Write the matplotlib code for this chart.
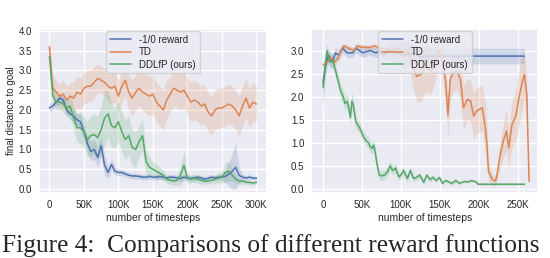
import numpy as np
import matplotlib
matplotlib.use("Agg")
import matplotlib.pyplot as plt
import seaborn as sns

# ---- data ----
# left panel: 0..300K every 5K
steps_l = np.arange(0, 301, 5) * 1000

blue_l = [2.05, 2.1, 2.2, 2.3, 2.25, 2.0, 1.9, 1.85, 1.75, 1.7,
          1.45, 1.15, 0.95, 1.0, 0.8, 1.1, 0.6, 0.42, 0.62, 0.45,
          0.42, 0.42, 0.38, 0.35, 0.33, 0.33, 0.32, 0.3, 0.3, 0.32,
          0.3, 0.3, 0.32, 0.3, 0.28, 0.3, 0.3, 0.28, 0.27, 0.3,
          0.28, 0.27, 0.28, 0.3, 0.28, 0.25, 0.27, 0.3, 0.28, 0.3,
          0.3, 0.32, 0.38, 0.45, 0.55, 0.35, 0.3, 0.28, 0.3, 0.28, 0.27]
blue_l_sd = [0.1, 0.1, 0.1, 0.1, 0.1, 0.15, 0.15, 0.15, 0.15, 0.2,
             0.2, 0.2, 0.25, 0.25, 0.25, 0.25, 0.25, 0.15, 0.15, 0.1,
             0.08, 0.08, 0.07, 0.07, 0.07, 0.07, 0.07, 0.07, 0.07, 0.07,
             0.07, 0.07, 0.07, 0.07, 0.07, 0.07, 0.07, 0.07, 0.07, 0.07,
             0.07, 0.07, 0.07, 0.07, 0.07, 0.07, 0.07, 0.07, 0.07, 0.07,
             0.08, 0.15, 0.3, 0.45, 0.6, 0.2, 0.08, 0.06, 0.06, 0.05, 0.05]

orange_l = [3.6, 2.55, 2.45, 2.35, 2.4, 2.25, 2.35, 2.3, 2.45, 2.4,
            2.55, 2.6, 2.6, 2.7, 2.8, 2.75, 2.7, 2.6, 2.55, 2.6,
            2.35, 2.6, 2.75, 2.45, 2.3, 2.45, 2.55, 2.45, 2.4, 2.35,
            2.4, 2.2, 2.1, 2.0, 2.25, 2.4, 2.55, 2.5, 2.45, 2.5,
            2.35, 2.2, 2.25, 2.2, 2.1, 2.15, 1.95, 1.85, 2.0, 2.05,
            2.05, 2.1, 2.15, 2.1, 2.0, 1.85, 2.1, 2.3, 2.05, 2.2, 2.15]
orange_l_sd = [0.2, 0.3, 0.3, 0.3, 0.35, 0.35, 0.35, 0.4, 0.4, 0.4,
               0.4, 0.4, 0.4, 0.4, 0.35, 0.35, 0.35, 0.4, 0.4, 0.4,
               0.4, 0.4, 0.4, 0.45, 0.45, 0.45, 0.45, 0.45, 0.5, 0.5,
               0.5, 0.5, 0.5, 0.5, 0.5, 0.45, 0.45, 0.45, 0.45, 0.45,
               0.45, 0.5, 0.5, 0.5, 0.5, 0.5, 0.5, 0.5, 0.5, 0.5,
               0.5, 0.5, 0.5, 0.5, 0.5, 0.5, 0.5, 0.5, 0.5, 0.5, 0.45]

green_l = [3.35, 2.35, 2.2, 2.2, 2.15, 2.05, 2.1, 1.8, 1.55, 1.55,
           1.45, 1.25, 1.35, 1.38, 1.3, 1.5, 1.8, 1.9, 1.6, 1.55,
           1.7, 1.45, 1.25, 1.35, 1.05, 1.0, 1.2, 1.35, 0.7, 0.55,
           0.5, 0.45, 0.4, 0.35, 0.25, 0.22, 0.2, 0.22, 0.35, 0.6,
           0.28, 0.25, 0.27, 0.25, 0.22, 0.2, 0.2, 0.22, 0.25, 0.28,
           0.3, 0.42, 0.45, 0.35, 0.25, 0.2, 0.2, 0.17, 0.17, 0.15, 0.17]
green_l_sd = [0.1, 0.2, 0.2, 0.2, 0.2, 0.2, 0.25, 0.3, 0.35, 0.4,
              0.4, 0.45, 0.5, 0.5, 0.55, 0.6, 0.7, 0.6, 0.55, 0.5,
              0.5, 0.5, 0.5, 0.5, 0.45, 0.45, 0.4, 0.4, 0.3, 0.25,
              0.2, 0.2, 0.15, 0.12, 0.1, 0.1, 0.1, 0.12, 0.25, 0.35,
              0.12, 0.1, 0.1, 0.1, 0.1, 0.08, 0.08, 0.08, 0.1, 0.12,
              0.15, 0.25, 0.25, 0.15, 0.1, 0.08, 0.07, 0.06, 0.06, 0.05, 0.05]

# right panel: irregular sample points (K steps)
blue_r_k = [0, 3, 7, 12, 16, 20, 25, 31, 38, 42, 51, 60, 68, 73, 77,
            85, 95, 105, 115, 125, 130, 150, 200, 258]
blue_r = [2.3, 2.65, 2.9, 2.75, 2.95, 2.9, 3.05, 2.95, 2.95, 3.05, 2.95,
          3.0, 2.95, 3.0, 2.9, 3.0, 2.95, 2.9, 2.95, 2.85, 2.88, 2.88,
          2.88, 2.88]
blue_r_sd = [0.4, 0.2, 0.15, 0.15, 0.12, 0.12, 0.1, 0.1, 0.1, 0.1, 0.1,
             0.1, 0.1, 0.1, 0.15, 0.2, 0.25, 0.3, 0.2, 0.2, 0.17, 0.17,
             0.17, 0.17]

orange_r_k = [0, 3, 10, 14, 18, 23, 27, 33, 40, 44, 51, 60, 66, 73, 79,
              88, 96, 104, 110, 116, 120, 125, 131, 138, 143, 148, 152,
              157, 160, 163, 167, 172, 176, 180, 185, 189, 193, 197, 204,
              208, 210, 212, 217, 221, 223, 227, 232, 235, 238, 242, 247,
              251, 255, 258, 261, 264]
orange_r = [2.7, 2.7, 2.85, 2.75, 2.8, 3.0, 3.1, 3.05, 3.0, 3.1, 3.07,
            3.07, 3.1, 3.05, 3.05, 3.0, 3.05, 2.95, 3.0, 2.6, 2.44, 2.48,
            2.66, 2.55, 2.75, 3.0, 2.88, 2.34, 1.6, 2.37, 2.52, 2.55, 2.37,
            1.76, 1.94, 1.91, 1.58, 1.69, 1.76, 1.32, 0.96, 0.38, 0.2,
            0.17, 0.31, 0.74, 1.1, 1.25, 0.89, 1.39, 1.58, 1.97, 2.3,
            2.48, 2.05, 0.16]
orange_r_sd = [0.05, 0.05, 0.08, 0.08, 0.08, 0.08, 0.06, 0.06, 0.06, 0.06,
               0.06, 0.06, 0.06, 0.06, 0.06, 0.1, 0.15, 0.2, 0.3, 0.45,
               0.55, 0.6, 0.55, 0.5, 0.45, 0.35, 0.35, 0.45, 0.5, 0.45,
               0.4, 0.4, 0.45, 0.5, 0.45, 0.45, 0.5, 0.5, 0.5, 0.55, 0.5,
               0.2, 0.12, 0.12, 0.15, 0.3, 0.4, 0.45, 0.45, 0.5, 0.55, 0.6,
               0.6, 0.5, 0.4, 0.05]

green_r_k = [0, 2, 5, 7, 9, 12, 14, 17, 20, 23, 26, 28, 31, 33, 35, 37,
             39, 42, 46, 49, 52, 55, 58, 61, 63, 65, 67, 69, 72, 75, 79,
             83, 86, 89, 93, 97, 100, 103, 106, 108, 112, 116, 120, 124,
             129, 133, 137, 141, 145, 149, 153, 157, 161, 165, 170, 175,
             181, 186, 190, 195, 199, 258]
green_r = [2.2, 2.5, 3.0, 2.85, 2.75, 2.8, 2.7, 2.5, 2.3, 2.1, 2.0, 1.85,
           1.9, 1.75, 1.55, 1.9, 1.8, 1.45, 1.35, 1.25, 1.12, 1.05, 1.0,
           0.9, 0.88, 0.95, 0.78, 0.55, 0.3, 0.28, 0.3, 0.38, 0.5, 0.4,
           0.45, 0.26, 0.3, 0.4, 0.3, 0.22, 0.4, 0.22, 0.25, 0.3, 0.14,
           0.3, 0.2, 0.25, 0.18, 0.25, 0.12, 0.18, 0.15, 0.12, 0.18, 0.12,
           0.16, 0.15, 0.18, 0.16, 0.1, 0.1]
green_r_sd = [0.5, 0.3, 0.15, 0.15, 0.15, 0.15, 0.15, 0.15, 0.15, 0.15,
              0.15, 0.15, 0.15, 0.15, 0.15, 0.2, 0.15, 0.15, 0.12, 0.12,
              0.12, 0.12, 0.12, 0.12, 0.12, 0.12, 0.12, 0.12, 0.1, 0.1,
              0.1, 0.1, 0.1, 0.1, 0.1, 0.08, 0.08, 0.08, 0.08, 0.08, 0.08,
              0.06, 0.06, 0.06, 0.05, 0.05, 0.05, 0.05, 0.04, 0.04, 0.04,
              0.04, 0.04, 0.04, 0.04, 0.03, 0.03, 0.03, 0.03, 0.03, 0.02,
              0.02]

labels = ["-1/0 reward", "TD", "DDLfP (ours)"]

# ---- style ----
sns.set_theme(style="darkgrid")
plt.rcParams["font.family"] = ["Liberation Sans", "DejaVu Sans"]
pal = sns.color_palette("deep")
c_blue, c_orange, c_green = pal[0], pal[1], pal[2]

fig = plt.figure(figsize=(5.5, 2.58), dpi=100)
ax1 = fig.add_axes([0.071, 0.252, 0.414, 0.636])
ax2 = fig.add_axes([0.566, 0.252, 0.413, 0.636])


def curve(ax, x, y, sd, color, label):
    x = np.asarray(x, float)
    y = np.asarray(y, float)
    sd = np.asarray(sd, float)
    ax.fill_between(x, np.clip(y - sd, 0, None), y + sd, color=color,
                    alpha=0.2, lw=0)
    ax.plot(x, y, color=color, lw=1.1, label=label)


curve(ax1, steps_l, blue_l, blue_l_sd, c_blue, labels[0])
curve(ax1, steps_l, orange_l, orange_l_sd, c_orange, labels[1])
curve(ax1, steps_l, green_l, green_l_sd, c_green, labels[2])

curve(ax2, np.array(blue_r_k) * 1000, blue_r, blue_r_sd, c_blue, labels[0])
curve(ax2, np.array(orange_r_k) * 1000, orange_r, orange_r_sd, c_orange, labels[1])
curve(ax2, np.array(green_r_k) * 1000, green_r, green_r_sd, c_green, labels[2])

ax1.set_xlim(-15000, 315000)
ax1.set_ylim(-0.1, 4.05)
ax1.set_xticks(np.arange(0, 300001, 50000))
ax1.set_xticklabels(["0", "50K", "100K", "150K", "200K", "250K", "300K"])
ax1.set_yticks(np.arange(0, 4.01, 0.5))
ax1.set_ylabel("final distance to goal", fontsize=7, labelpad=2)

ax2.set_xlim(-15000, 276000)
ax2.set_ylim(-0.09, 3.47)
ax2.set_xticks(np.arange(0, 250001, 50000))
ax2.set_xticklabels(["0", "50K", "100K", "150K", "200K", "250K"])
ax2.set_yticks(np.arange(0, 3.01, 0.5))

for ax in (ax1, ax2):
    ax.tick_params(axis="both", length=0, labelsize=7, pad=5)
    ax.set_xlabel("number of timesteps", fontsize=7.5, labelpad=2)
    ax.legend(loc="upper center", fontsize=7, borderaxespad=0.2,
              handlelength=2.2, labelspacing=0.25)

# caption below the panels
fig.text(0.004, 0.0215, "Figure 4:  Comparisons of different reward functions",
         fontsize=18.3, family="Liberation Serif", va="baseline")

fig.savefig("out.png", dpi=100)
